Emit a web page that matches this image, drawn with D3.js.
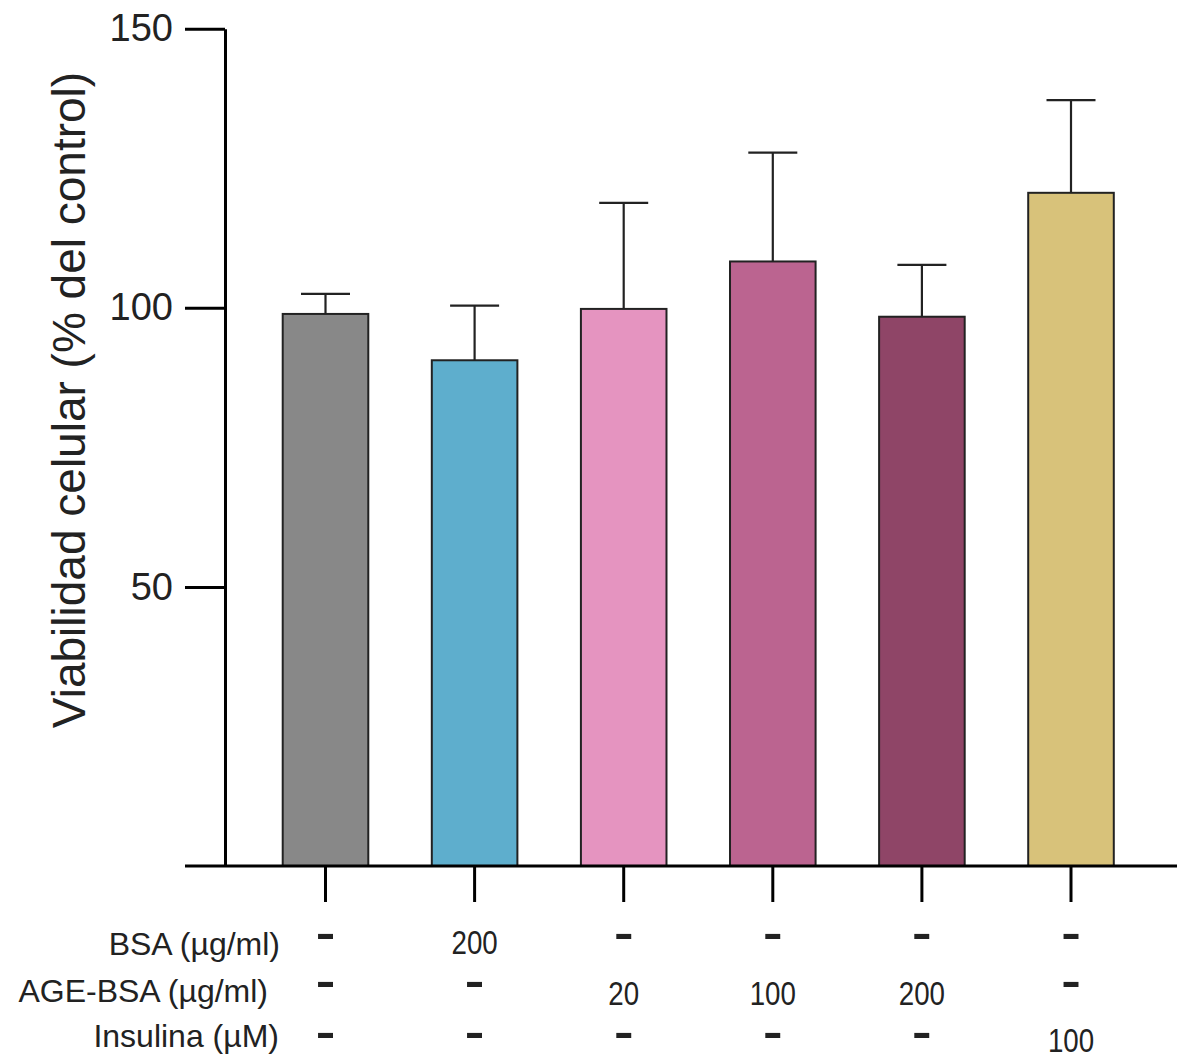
<!DOCTYPE html>
<html><head><meta charset="utf-8">
<script src="https://cdn.jsdelivr.net/npm/d3@7"></script>
<style>body{margin:0;background:#fff}svg{display:block}</style>
</head><body>
<script>
const groups = ["Control","BSA 200","AGE-BSA 20","AGE-BSA 100","AGE-BSA 200","Insulina 100"];
const means  = [98.9, 90.6, 99.8, 108.3, 98.4, 120.6];
const errors = [3.6, 9.8, 19.0, 19.5, 9.3, 16.6];
const colors = ["#888888","#5eaecd","#e594c0","#bb6490","#8f4567","#d8c27a"];
const yTicks = [50,100,150];
const rowLabels = ["BSA (µg/ml)","AGE-BSA (µg/ml)","Insulina (µM)"];
const rowValues = [
  ["-","200","-","-","-","-"],
  ["-","-","20","100","200","-"],
  ["-","-","-","-","-","100"]
];
const yTitle = "Viabilidad celular (% del control)";

const W=1177,H=1061;
const svg=d3.select("body").append("svg").attr("width",W).attr("height",H);
const font="'Liberation Sans', Arial, sans-serif";

const y=d3.scaleLinear().domain([0,150]).range([866,28.7]);
const x=d3.scaleBand().domain(groups).range([250.95,1145.55]).paddingInner(0.426).paddingOuter(0.213);

// bars
svg.append("g").selectAll("rect").data(groups).join("rect")
  .attr("x",d=>x(d)).attr("width",x.bandwidth())
  .attr("y",(d,i)=>y(means[i])).attr("height",(d,i)=>y(0)-y(means[i]))
  .attr("fill",(d,i)=>colors[i]).attr("stroke","#222").attr("stroke-width",2);

// error bars
const eg=svg.append("g").attr("stroke","#222").attr("stroke-width",2.2);
groups.forEach((g,i)=>{
  const cx=x(g)+x.bandwidth()/2;
  eg.append("line").attr("x1",cx).attr("x2",cx).attr("y1",y(means[i])).attr("y2",y(means[i]+errors[i]));
  eg.append("line").attr("x1",cx-24.5).attr("x2",cx+24.5).attr("y1",y(means[i]+errors[i])).attr("y2",y(means[i]+errors[i]));
});

// y axis
const ya=svg.append("g").attr("transform","translate(225,0)")
  .call(d3.axisLeft(y).tickValues(yTicks).tickSize(40).tickSizeOuter(0).tickPadding(12));
ya.selectAll("path,line").attr("stroke","#000").attr("stroke-width",3);
ya.selectAll("text").attr("font-family",font).attr("font-size",38).attr("fill","#222");

// x axis
svg.append("line").attr("x1",185).attr("x2",W).attr("y1",y(0)).attr("y2",y(0)).attr("stroke","#000").attr("stroke-width",3);
const xa=svg.append("g").attr("transform",`translate(0,${y(0)})`)
  .call(d3.axisBottom(x).tickSize(36).tickFormat(""));
xa.select(".domain").remove();
xa.selectAll("line").attr("stroke","#000").attr("stroke-width",3);

// y title
svg.append("text").attr("transform","translate(85,400) rotate(-90)")
  .attr("text-anchor","middle").attr("font-family",font).attr("font-size",46).attr("fill","#222")
  .text(yTitle);

// table rows
const labelRight=[280,268,279];
const labelBase=[955,1002,1047];
const numBase=[954,1005,1052];
const dashBase=[948,996,1047];
rowLabels.forEach((l,r)=>{
  svg.append("text").attr("x",labelRight[r]).attr("y",labelBase[r]).attr("text-anchor","end")
    .attr("font-family",font).attr("font-size",32).attr("fill","#222").text(l);
  rowValues[r].forEach((v,i)=>{
    const cx=x(groups[i])+x.bandwidth()/2;
    if(v==="-"){
      svg.append("text").attr("transform",`translate(${cx},${dashBase[r]}) scale(1.4,1)`).attr("text-anchor","middle")
        .attr("font-family",font).attr("font-weight","bold").attr("font-size",42).attr("fill","#222").text(v);
    } else {
      svg.append("text").attr("transform",`translate(${cx},${numBase[r]}) scale(0.84,1)`).attr("text-anchor","middle")
        .attr("font-family",font).attr("font-size",33).attr("fill","#222").text(v);
    }
  });
});
</script>
</body></html>
